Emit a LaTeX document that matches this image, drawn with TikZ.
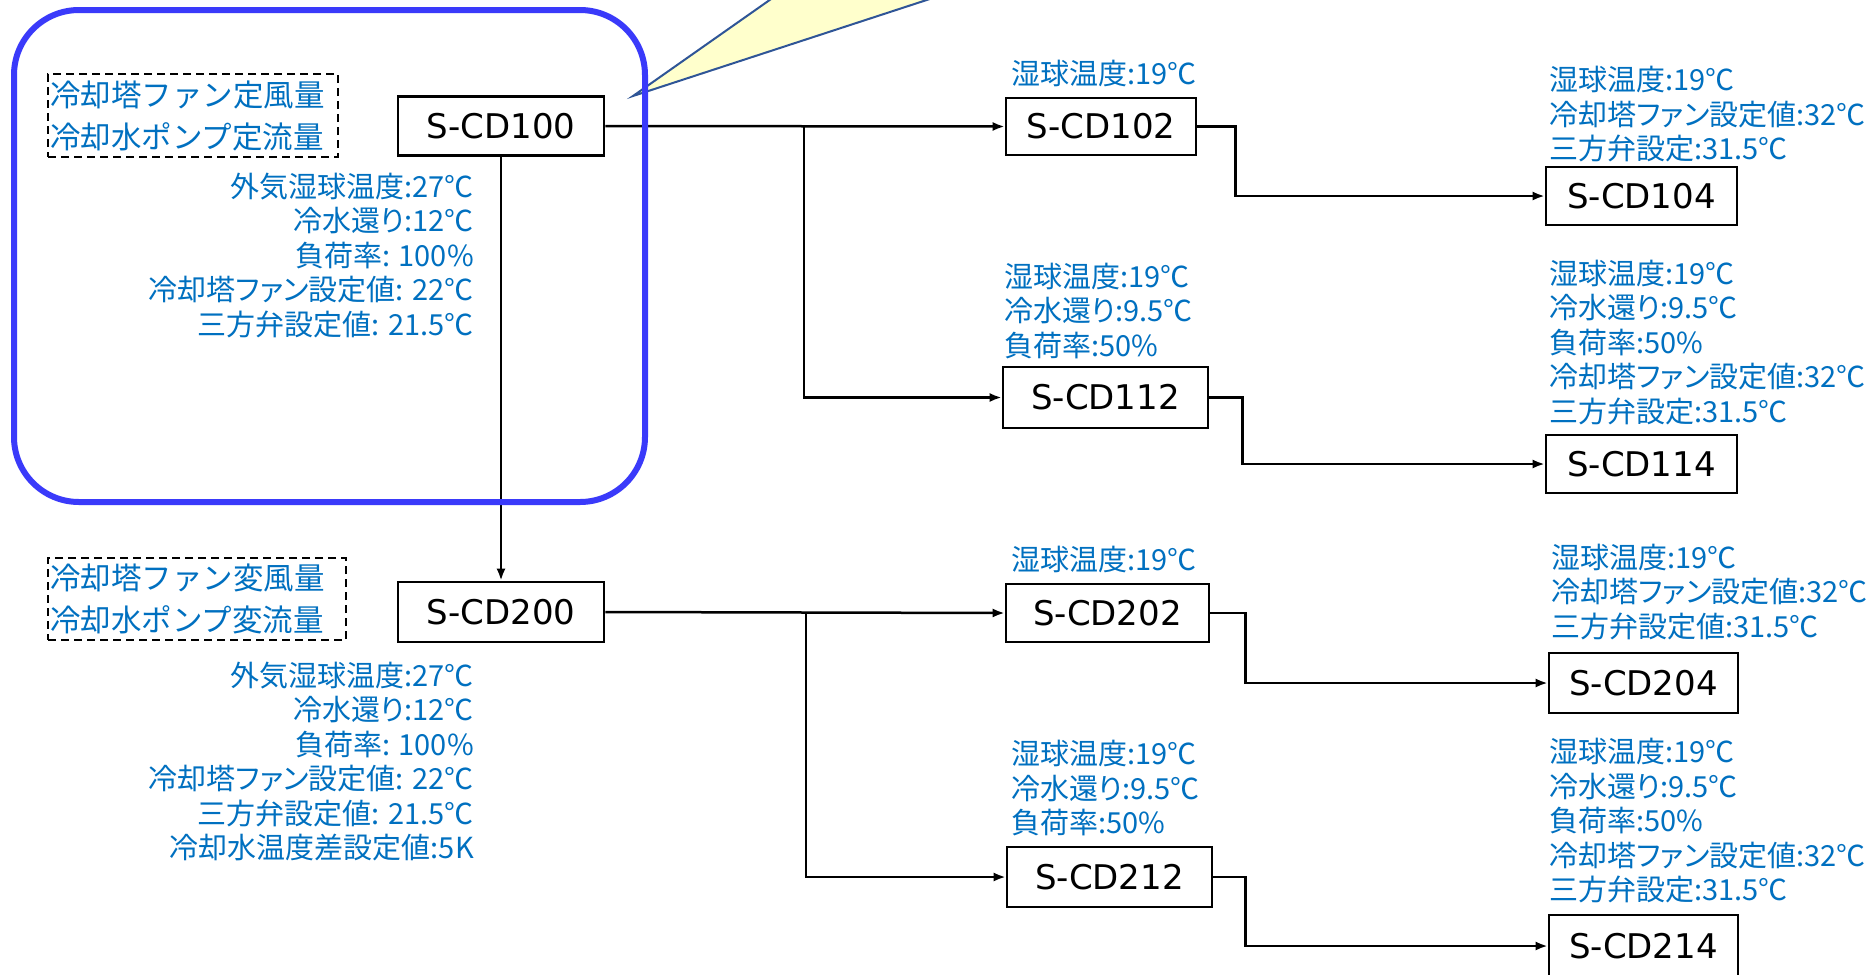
\documentclass[tikz,border=0pt]{standalone}
\usepackage{fontspec}
\usetikzlibrary{arrows.meta}
\newfontfamily\jpfont{Noto Sans CJK JP}
\newfontfamily\jppfont[RawFeature=+palt]{Noto Sans CJK JP}
\newfontfamily\labfont{DejaVu Sans}
\definecolor{rectblue}{RGB}{58,58,250}
\definecolor{txtblue}{RGB}{0,112,192}
\definecolor{callfill}{RGB}{255,255,204}
\definecolor{callline}{RGB}{47,85,151}
\begin{document}
\begin{tikzpicture}[x=1pt,y=-1pt,
  sbox/.style={draw, line width=2.6pt, inner sep=0pt, font=\labfont\fontsize{34}{40}\selectfont},
  info/.style={text=txtblue, inner sep=0pt, font=\jppfont\fontsize{29}{34.5}\selectfont},
  cond/.style={draw, dash pattern=on 8pt off 5pt, line width=2.7pt, text=txtblue,
    font=\jpfont\fontsize{30.5}{42}\selectfont, align=left, inner xsep=2pt, inner ysep=0pt},
  conn/.style={line width=2.5pt, -{Latex[length=12pt,width=9pt]}},
  line/.style={line width=2.5pt}
]
\useasboundingbox (0,0) rectangle (1875,975);
\clip (0,0) rectangle (1875,975);
\fill[white] (0,0) rectangle (1875,975);

% callout pointer
\draw[fill=callfill, draw=callline, line width=2pt, line join=miter]
  (633,96) -- (801,-22) -- (994,-22) -- cycle;

% boxes
\node[sbox, minimum width=206pt, minimum height=59pt] (n100) at (501,126) {S-CD100};
\node[sbox, minimum width=190pt, minimum height=57pt] (n102) at (1101,126.5) {S-CD102};
\node[sbox, minimum width=191pt, minimum height=58pt] (n104) at (1641.5,196) {S-CD104};
\node[sbox, minimum width=205pt, minimum height=61pt] (n112) at (1105.5,397.5) {S-CD112};
\node[sbox, minimum width=191pt, minimum height=58pt] (n114) at (1641.5,464) {S-CD114};
\node[sbox, minimum width=206pt, minimum height=60pt] (n200) at (501,612) {S-CD200};
\node[sbox, minimum width=203pt, minimum height=58pt] (n202) at (1107.5,613) {S-CD202};
\node[sbox, minimum width=189pt, minimum height=60pt] (n204) at (1643.5,683) {S-CD204};
\node[sbox, minimum width=205pt, minimum height=60pt] (n212) at (1109.5,877) {S-CD212};
\node[sbox, minimum width=189pt, minimum height=62pt] (n214) at (1643.5,946) {S-CD214};

% condition boxes
\node[cond, text width=286pt, minimum height=83pt] (c1) at (193,115.5) {冷却塔ファン定風量\\冷却水ポンプ定流量};
\node[cond, text width=294pt, minimum height=82pt] (c2) at (197,599) {冷却塔ファン変風量\\冷却水ポンプ変流量};

% info texts
\node[info, align=right, anchor=east] (t100) at (474,255.5) {外気湿球温度:27℃\\冷水還り:12℃\\負荷率: 100\%\\冷却塔ファン設定値: 22℃\\三方弁設定値: 21.5℃};
\node[info, align=right, anchor=east] (t200) at (474,761.5) {外気湿球温度:27℃\\冷水還り:12℃\\負荷率: 100\%\\冷却塔ファン設定値: 22℃\\三方弁設定値: 21.5℃\\冷却水温度差設定値:5K};
\node[info, align=left, anchor=west] (t102) at (1011,73) {湿球温度:19℃};
\node[info, align=left, anchor=west] (t104) at (1549,114.5) {湿球温度:19℃\\冷却塔ファン設定値:32℃\\三方弁設定:31.5℃};
\node[info, align=left, anchor=west] (t112) at (1004,311) {湿球温度:19℃\\冷水還り:9.5℃\\負荷率:50\%};
\node[info, align=left, anchor=west] (t114) at (1549,342.5) {湿球温度:19℃\\冷水還り:9.5℃\\負荷率:50\%\\冷却塔ファン設定値:32℃\\三方弁設定:31.5℃};
\node[info, align=left, anchor=west] (t202) at (1011,559) {湿球温度:19℃};
\node[info, align=left, anchor=west] (t204) at (1551,592) {湿球温度:19℃\\冷却塔ファン設定値:32℃\\三方弁設定値:31.5℃};
\node[info, align=left, anchor=west] (t212) at (1011,788.5) {湿球温度:19℃\\冷水還り:9.5℃\\負荷率:50\%};
\node[info, align=left, anchor=west] (t214) at (1549,821) {湿球温度:19℃\\冷水還り:9.5℃\\負荷率:50\%\\冷却塔ファン設定値:32℃\\三方弁設定:31.5℃};

% connectors
\coordinate (b1) at (804,126);
\coordinate (b2) at (806,612);
\draw[conn] (n100.east) -- (n102.west);
\draw[conn] (b1) |- (n112.west);
\draw[conn] (n102.east) -- ++(38,0) |- (n104.west);
\draw[conn] (n112.east) -- ++(33,0) |- (n114.west);
\draw[conn] (n100.south) -- (n200.north);
\draw[conn] (n200.east) -- (n202.west);
\draw[conn] (b2) |- (n212.west);
\draw[conn] (n202.east) -- ++(35,0) |- (n204.west);
\draw[conn] (n212.east) -- ++(32,0) |- (n214.west);

% highlight frame
\draw[rectblue, line width=6pt, rounded corners=65pt] (14,10) rectangle (645,502);
\end{tikzpicture}
\end{document}
